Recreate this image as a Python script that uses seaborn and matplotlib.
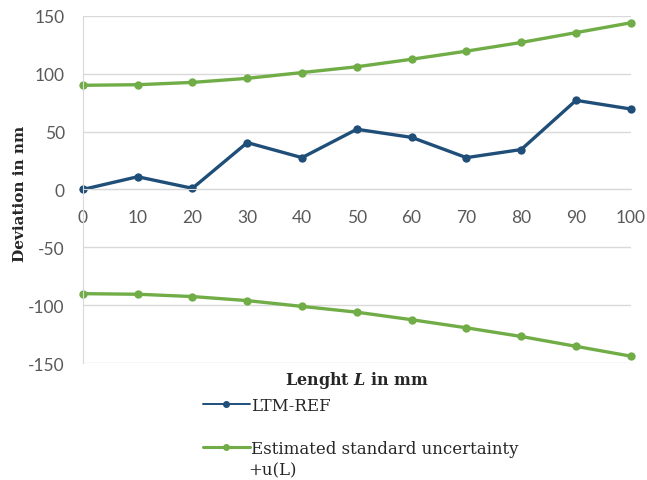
import numpy as np
import pandas as pd
import matplotlib
matplotlib.use('Agg')
import matplotlib.pyplot as plt
import seaborn as sns
from matplotlib.lines import Line2D

# data
length_mm = [0, 10, 20, 30, 40, 50, 60, 70, 80, 90, 100]
ltm_ref = [0, 11, 1, 40.5, 27.5, 52, 45, 27.5, 34.5, 77, 69.5]
u_plus = [90, 90.5, 92.5, 96, 101, 106, 112.5, 119.5, 127, 135.5, 144]
u_minus = [-90, -90.5, -92.5, -96, -101, -106, -112.5, -119.5, -127, -135.5, -144]

blue = '#1f4e79'
green = '#70ad47'
grid_col = '#d9d9d9'
tick_col = '#595959'

sns.set_style('white')
plt.rcParams['font.family'] = ['DejaVu Serif']
plt.rcParams['axes.unicode_minus'] = False
plt.rcParams['mathtext.fontset'] = 'custom'
plt.rcParams['mathtext.it'] = 'DejaVu Serif:italic:bold'

fig = plt.figure(figsize=(6.47, 4.81), dpi=100)
ax = fig.add_axes([0.128, 0.243, 0.847, 0.722])

for yv, col in [(u_plus, green), (u_minus, green), (ltm_ref, blue)]:
    sns.lineplot(x=length_mm, y=yv, ax=ax, color=col, lw=2.4, marker='o',
                 markersize=6, markeredgewidth=0, clip_on=False)

ax.set_xlim(0, 100)
ax.set_ylim(-150, 150)
ax.set_xticks(range(0, 101, 10))
ax.set_yticks(range(-150, 151, 50))
ax.yaxis.grid(True, color=grid_col, lw=1)
ax.set_axisbelow(True)

for s in ['top', 'right']:
    ax.spines[s].set_visible(False)
ax.spines['left'].set_color(grid_col)
ax.spines['bottom'].set_color(grid_col)
ax.spines['bottom'].set_position(('data', 0))

ax.tick_params(axis='both', length=0, labelsize=12.5, colors=tick_col)
ax.tick_params(axis='y', pad=13)
ax.tick_params(axis='x', pad=14)
for lab in ax.get_xticklabels() + ax.get_yticklabels():
    lab.set_fontfamily(['Lato', 'DejaVu Sans'])

fig.text(20 / 647, 1 - 194 / 481, 'Deviation in nm', rotation=90, ha='center',
         va='center', fontsize=11, fontweight='bold')
fig.text(357 / 647, 1 - 381 / 481, r'Lenght $L$ in mm', ha='center', va='center',
         fontsize=11.5, fontweight='bold')

handles = [
    Line2D([], [], color=blue, lw=1.4, marker='o', markersize=4),
    Line2D([], [], color=green, lw=2.2, marker='o', markersize=4),
]
labels = ['LTM-REF', 'Estimated standard uncertainty']
fig.legend(handles, labels, loc='upper left', bbox_to_anchor=(203 / 647, 1 - 398 / 481),
           frameon=False, fontsize=12, handlelength=2.8, handletextpad=0.1,
           labelspacing=1.55, borderaxespad=0, borderpad=0)
fig.text(248 / 647, 1 - 471 / 481, '+u(L)', ha='left', va='center', fontsize=12)

fig.savefig('out.png', dpi=100)
